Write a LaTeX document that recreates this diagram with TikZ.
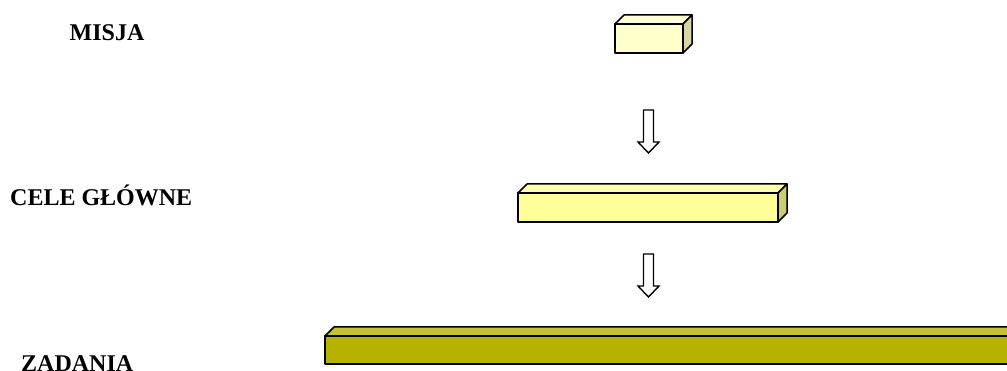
\documentclass[tikz,border=0pt]{standalone}
\usepackage{fontspec}
\setmainfont{Liberation Serif}
\definecolor{misjaF}{HTML}{FFFFCC}
\definecolor{misjaT}{HTML}{FFFFD9}
\definecolor{misjaS}{HTML}{D6D6A8}
\definecolor{celeF}{HTML}{FFFF99}
\definecolor{celeT}{HTML}{FFFFB0}
\definecolor{celeS}{HTML}{CCCC70}
\definecolor{zadF}{HTML}{B5B300}
\definecolor{zadT}{HTML}{C6C232}
\tikzset{
  edge3d/.style={draw=black, line width=1.5pt, line join=round},
  lbl/.style={font=\bfseries\fontsize{24}{27}\selectfont, inner sep=0pt},
  blockarrow/.style={draw=black, fill=white, line width=1.4pt, line join=miter},
}
\newcommand{\cuboid}[8]{%
  % #1 name, #2 x1, #3 y1, #4 x2, #5 y2, #6 front, #7 top, #8 side; depth 9
  \coordinate (#1-a) at (#2,#3);
  \coordinate (#1-b) at (#4,#5);
  \filldraw[edge3d, fill=#7] (#2,#3) -- ++(9,-9) -- (#4+9,#3-9) -- (#4,#3) -- cycle;
  \filldraw[edge3d, fill=#8] (#4,#3) -- ++(9,-9) -- (#4+9,#5-9) -- (#4,#5) -- cycle;
  \filldraw[edge3d, fill=#6] (#1-a) rectangle (#1-b);
}
\newcommand{\downarrowshape}[3]{%
  % #1 centre x, #2 top y, #3 tip y
  \filldraw[blockarrow] (#1-5,#2) -- (#1+5,#2) -- (#1+5,#3-11) -- (#1+10.5,#3-11)
    -- (#1,#3) -- (#1-10.5,#3-11) -- (#1-5,#3-11) -- cycle;
}
\begin{document}
\begin{tikzpicture}[x=1pt, y=-1pt]
  \useasboundingbox (0,0) rectangle (1007,371);
  \begin{scope}
    \clip (0,0) rectangle (1007,371);
    \cuboid{misja}{615}{24}{683}{53}{misjaF}{misjaT}{misjaS}
    \cuboid{cele}{518}{193}{778}{222}{celeF}{celeT}{celeS}
    \cuboid{zad}{325}{336}{1012}{364}{zadF}{zadT}{zadF}
    \downarrowshape{648.5}{110}{153}
    \downarrowshape{648.5}{254}{297}
  \end{scope}
  \node[lbl, anchor=base] (tmisja) at (107,41) {MISJA};
  \node[lbl, anchor=base west] (tcele) at (10,206) {CELE GŁÓWNE};
  \node[lbl, anchor=base west] (tzad) at (21,371) {ZADANIA};
\end{tikzpicture}
\end{document}
